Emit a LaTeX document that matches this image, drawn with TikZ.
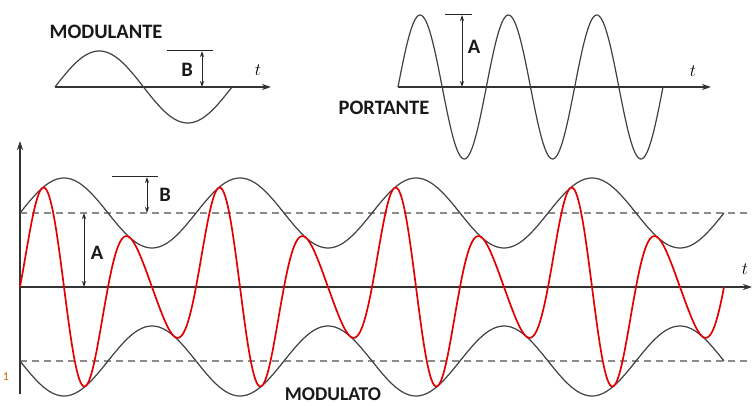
\documentclass[tikz,border=0pt]{standalone}
\usepackage{fontspec}
\setmainfont{Carlito}
\usetikzlibrary{arrows.meta,positioning}

\tikzset{
  lbl/.style={font=\bfseries\fontsize{20.5}{20}\selectfont,text=black!90,inner sep=0pt},
  curve/.style={draw=black!75,line width=1.2pt},
  axis/.style={draw=black!80,line width=1.4pt,-{Stealth[length=9pt,width=6pt]}},
  dbl/.style={draw=black!85,line width=1pt,{Stealth[length=6pt,width=4pt]}-{Stealth[length=6pt,width=4pt]}},
  ref/.style={draw=black!85,line width=1pt},
  lvl/.style={draw=black!45,line width=1.1pt,dash pattern=on 7pt off 5pt}
}

\begin{document}
\begin{tikzpicture}[x=1pt,y=-1pt]
\useasboundingbox (0,0) rectangle (752,406);

% modulante
\node[lbl] (modl) at (106,32) {MODULANTE};
\coordinate (m0) at (55,87);
\coordinate (m1) at (271,87);
\draw[axis] (m0) -- (m1);
\draw[curve,domain=55:232,samples=80] plot (\x,{87-36*sin(360/177*(\x-55))});
\coordinate (mb1) at (167,51);
\coordinate (mb2) at (213,51);
\coordinate (mbt) at (202,51);
\coordinate (mbb) at (202,87);
\draw[ref] (mb1) -- (mb2);
\draw[dbl] (mbt) -- (mbb);
\node[lbl] (labB) at (187,70) {B};
\node (mt) at (258,70) {\fontsize{18}{18}\selectfont$t$};

% portante
\node[lbl] (port) at (384,108) {PORTANTE};
\coordinate (p0) at (398,87);
\coordinate (p1) at (711,87);
\draw[axis] (p0) -- (p1);
\draw[curve,domain=398:663,samples=200] plot (\x,{87-72*sin(180/44.17*(\x-398))});
\coordinate (pa1) at (445,15);
\coordinate (pa2) at (472,15);
\coordinate (pat) at (462,15);
\coordinate (pab) at (462,87);
\draw[ref] (pa1) -- (pa2);
\draw[dbl] (pat) -- (pab);
\node[lbl] (labA) at (474,47) {A};
\node (pt) at (693,71) {\fontsize{18}{18}\selectfont$t$};

% modulato
\coordinate (o) at (20,287);
\coordinate (yend) at (20,141);
\coordinate (ybot) at (20,394);
\coordinate (xend) at (752,287);
\coordinate (dA1) at (20,213);
\coordinate (dA2) at (750,213);
\coordinate (dB1) at (20,361);
\coordinate (dB2) at (750,361);
\draw[lvl] (dA1) -- (dA2);
\draw[lvl] (dB1) -- (dB2);
\draw[axis] (ybot) -- (yend);
\draw[axis] (o) -- (xend);
\draw[curve,domain=20:724,samples=300] plot (\x,{287-(74+35*sin(360/176*(\x-20)))});
\draw[curve,domain=20:724,samples=300] plot (\x,{287+(74+35*sin(360/176*(\x-20)))});
\draw[draw=red!90!black,line width=1.7pt,domain=20:724,samples=600]
  plot (\x,{287-(74+35*sin(360/176*(\x-20)))*sin(360/88*(\x-20))});
\coordinate (aT) at (84,213);
\coordinate (aB) at (84,287);
\draw[dbl] (aT) -- (aB);
\node[lbl] (labA2) at (97,253) {A};
\coordinate (b1) at (112,177);
\coordinate (b2) at (158,177);
\coordinate (bT) at (147,177);
\coordinate (bB) at (147,213);
\draw[ref] (b1) -- (b2);
\draw[dbl] (bT) -- (bB);
\node[lbl] (labB2) at (165,195) {B};
\node (xt) at (745,269) {\fontsize{18}{18}\selectfont$t$};
\node[lbl,anchor=base,font=\bfseries\fontsize{19.5}{19}\selectfont] (modo) at (333,400) {MODULATO};
\node[font=\fontsize{12}{12}\selectfont,text=orange!80!black,inner sep=0pt] (one) at (6,377) {1};
\end{tikzpicture}
\end{document}
